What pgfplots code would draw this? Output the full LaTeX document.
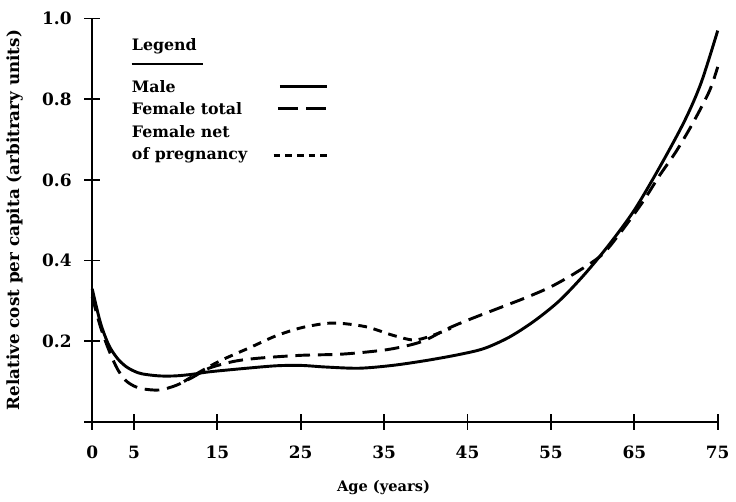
\documentclass[border=0pt]{standalone}
\usepackage{pgfplots}
\pgfplotsset{compat=1.18}
\usepackage{fontspec}
\setmainfont{DejaVu Serif}
\begin{document}
\begin{tikzpicture}
\begin{axis}[
  scale only axis,
  width=321pt, height=207pt,
  xmin=0, xmax=75, ymin=0, ymax=1,
  axis lines=left,
  axis line style={-, line width=1pt},
  tick align=center,
  major tick length=8pt,
  every tick/.style={black, line width=0.9pt},
  xtick={0,5,15,25,35,45,55,65,75},
  ytick={0,0.2,0.4,0.6,0.8,1.0},
  yticklabels={,0.2,0.4,0.6,0.8,1.0},
  /pgf/number format/assume math mode=true,
  tick label style={font=\bfseries\fontsize{8.7}{10}\selectfont},
  xticklabel style={yshift=-5pt},
  yticklabel style={xshift=-3pt},
  xlabel={Age (years)},
  ylabel={Relative cost per capita (arbitrary units)},
  label style={font=\bfseries\fontsize{7.5}{9}\selectfont},
  xlabel style={xshift=-11pt, yshift=-4pt},
  ylabel style={yshift=3pt, font=\bfseries\fontsize{8.6}{9}\selectfont},
  clip=false,
]
% Male (solid)
\addplot[black, line width=1.5pt, smooth, tension=0.5] coordinates {
 (0,0.33) (1,0.245) (2,0.19) (3,0.158) (4,0.138) (5,0.126) (6,0.119) (8,0.114)
 (10,0.114) (12,0.118) (14,0.124) (18,0.132) (22,0.139) (25,0.140) (28,0.136)
 (32,0.133) (36,0.140) (40,0.152) (44,0.167) (47,0.182) (50,0.210) (53,0.250)
 (56,0.300) (59,0.365) (62,0.440) (65,0.525) (68,0.630) (71,0.745) (73,0.840) (75,0.970)
};
% Female total (long dash)
\addplot[black, line width=1.5pt, smooth, tension=0.5, dash pattern=on 7.5pt off 4pt] coordinates {
 (0,0.31) (1,0.235) (2,0.178) (3,0.132) (4,0.103) (5,0.089) (6,0.082) (8,0.079)
 (10,0.090) (12,0.110) (14,0.133) (17,0.150) (20,0.158) (25,0.165) (30,0.168)
 (35,0.178) (38,0.190) (40,0.203) (42.5,0.230) (45,0.252) (48.5,0.280) (52,0.308)
 (55,0.335) (58,0.370) (61,0.412) (63,0.460) (66,0.545) (68,0.610) (70,0.670)
 (72,0.740) (74,0.820) (75,0.880)
};
% Female net of pregnancy (short dash), where it departs from female total
\addplot[black, line width=1.5pt, smooth, tension=0.5, dash pattern=on 4.5pt off 3.5pt] coordinates {
 (11,0.100) (13,0.125) (15.5,0.153) (19,0.185) (22,0.213) (25,0.233) (28,0.244)
 (30,0.244) (33,0.235) (36,0.215) (38.5,0.203) (40.5,0.212) (43,0.232)
};
% legend
\tikzset{lg/.style={anchor=west, inner sep=0pt, font=\bfseries\fontsize{8.1}{9}\selectfont}}
\node[lg] at (rel axis cs:0.063,0.930) {Legend};
\draw[line width=1.2pt] (rel axis cs:0.063,0.887) -- (rel axis cs:0.177,0.887);
\node[lg] at (rel axis cs:0.063,0.831) {Male};
\node[lg] at (rel axis cs:0.063,0.777) {Female total};
\node[lg] at (rel axis cs:0.063,0.720) {Female net};
\node[lg] at (rel axis cs:0.063,0.661) {of pregnancy};
\draw[line width=1.3pt] (rel axis cs:0.30,0.831) -- (rel axis cs:0.375,0.831);
\draw[line width=1.3pt, dash pattern=on 10.2pt off 4.2pt] (rel axis cs:0.297,0.777) -- (rel axis cs:0.375,0.777);
\draw[line width=1.3pt, dash pattern=on 3.5pt off 2.5pt] (rel axis cs:0.29,0.661) -- (rel axis cs:0.375,0.661);
\path (rel axis cs:0,1) ++(0,9.5pt) coordinate (topspace);
\end{axis}
\end{tikzpicture}
\end{document}
